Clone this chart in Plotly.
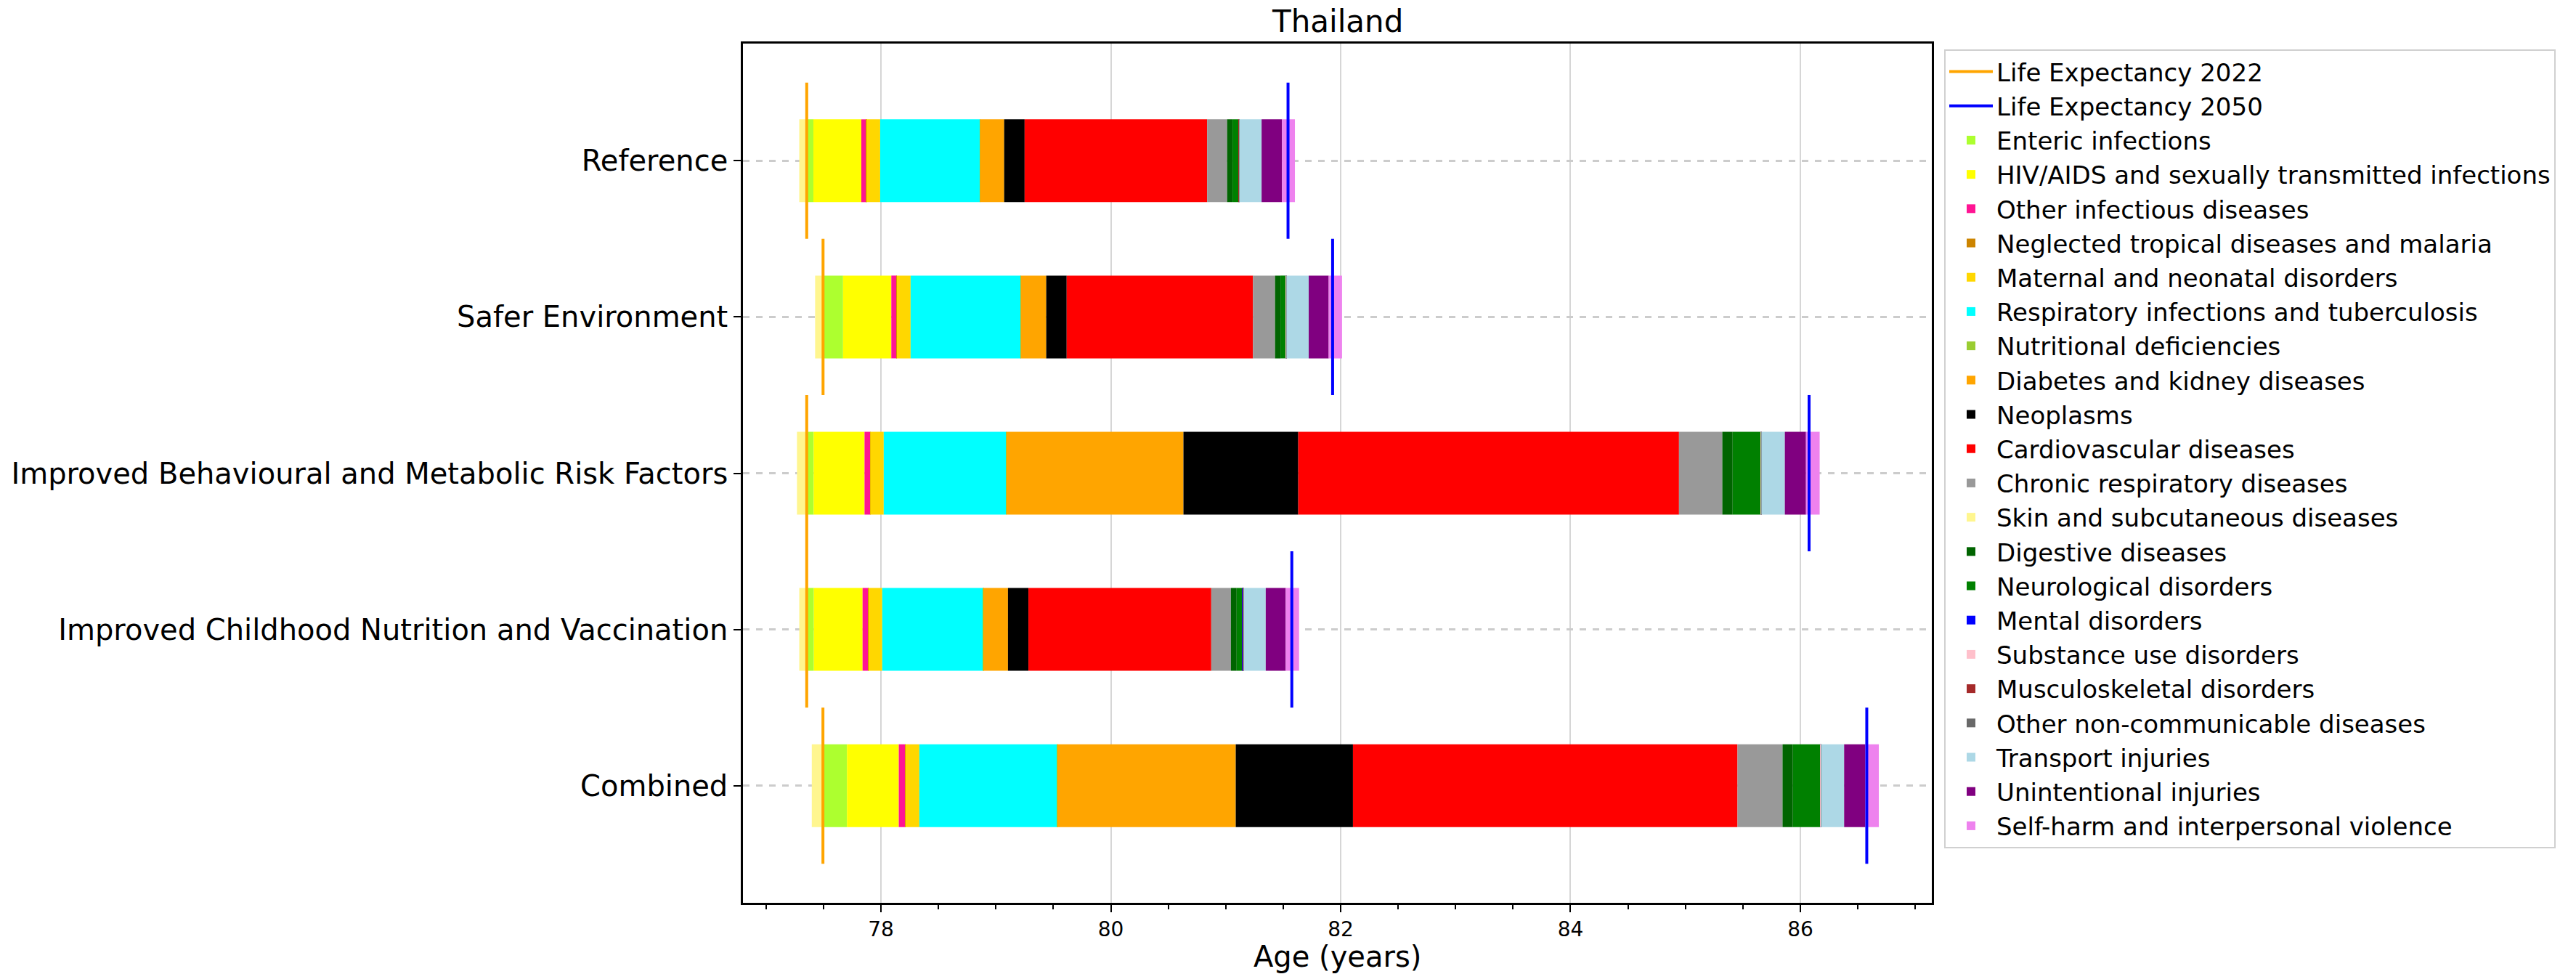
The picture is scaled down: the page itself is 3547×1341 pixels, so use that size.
import numpy as np
import plotly.graph_objects as go

scenarios = [
    "Reference",
    "Safer Environment",
    "Improved Behavioural and Metabolic Risk Factors",
    "Improved Childhood Nutrition and Vaccination",
    "Combined",
]

le_2022 = [77.354, 77.496, 77.354, 77.354, 77.495]
le_2050 = [81.542, 81.930, 86.076, 81.575, 86.578]

causes = [
    "Enteric infections",
    "HIV/AIDS and sexually transmitted infections",
    "Other infectious diseases",
    "Neglected tropical diseases and malaria",
    "Maternal and neonatal disorders",
    "Respiratory infections and tuberculosis",
    "Nutritional deficiencies",
    "Diabetes and kidney diseases",
    "Neoplasms",
    "Cardiovascular diseases",
    "Chronic respiratory diseases",
    "Skin and subcutaneous diseases",
    "Digestive diseases",
    "Neurological disorders",
    "Mental disorders",
    "Substance use disorders",
    "Musculoskeletal disorders",
    "Other non-communicable diseases",
    "Transport injuries",
    "Unintentional injuries",
    "Self-harm and interpersonal violence",
]

cause_colors = [
    "#ADFF2F", "#FFFF00", "#FF1493", "#CC8400", "#FFD700", "#00FFFF",
    "#9ACD32", "#FFA500", "#000000", "#FF0000", "#999999", "#FFF68F",
    "#006400", "#008000", "#0000FF", "#FFC0CB", "#A52A2A", "#696969",
    "#ADD8E6", "#800080", "#EE82EE",
]

# contributions (years) per scenario, same order as `scenarios`
enteric = [0.058, 0.174, 0.060, 0.062, 0.209]
hiv_sti = [0.417, 0.420, 0.443, 0.424, 0.451]
other_infectious = [0.044, 0.047, 0.049, 0.051, 0.057]
ntd_malaria = [0.001, 0.001, 0.001, 0.001, 0.001]
maternal_neonatal = [0.119, 0.120, 0.117, 0.119, 0.121]
respiratory_tb = [0.867, 0.957, 1.067, 0.878, 1.200]
nutritional = [0.002, 0.002, 0.002, 0.002, 0.002]
diabetes_kidney = [0.210, 0.221, 1.539, 0.214, 1.551]
neoplasms = [0.178, 0.178, 0.999, 0.178, 1.020]
cardiovascular = [1.588, 1.621, 3.313, 1.591, 3.346]
chronic_respiratory = [0.174, 0.192, 0.377, 0.171, 0.392]
skin = [-0.065, -0.069, -0.085, -0.065, -0.097]
digestive = [0.047, 0.047, 0.090, 0.050, 0.090]
neurological = [0.050, 0.047, 0.245, 0.051, 0.240]
mental = [0.003, 0.002, 0.002, 0.003, 0.002]
substance = [0.002, 0.001, 0.001, 0.002, 0.001]
musculoskeletal = [0.003, 0.002, 0.002, 0.003, 0.002]
other_ncd = [0.002, 0.001, 0.001, 0.002, 0.001]
transport = [0.193, 0.193, 0.203, 0.192, 0.200]
unintentional = [0.177, 0.174, 0.184, 0.174, 0.184]
self_harm = [0.113, 0.116, 0.119, 0.116, 0.118]

cause_values = [
    enteric, hiv_sti, other_infectious, ntd_malaria, maternal_neonatal,
    respiratory_tb, nutritional, diabetes_kidney, neoplasms, cardiovascular,
    chronic_respiratory, skin, digestive, neurological, mental, substance,
    musculoskeletal, other_ncd, transport, unintentional, self_harm,
]

FONT = "DejaVu Sans"
y_pos = list(range(len(scenarios)))

fig = go.Figure()


def vline_xy(values):
    xs, ys = [], []
    for i, v in enumerate(values):
        xs += [v, v, None]
        ys += [i - 0.5, i + 0.5, None]
    return xs, ys


x22, y22 = vline_xy(le_2022)
x50, y50 = vline_xy(le_2050)
fig.add_trace(go.Scatter(x=x22, y=y22, mode="lines", name="Life Expectancy 2022",
                         line=dict(color="orange", width=4)))
fig.add_trace(go.Scatter(x=x50, y=y50, mode="lines", name="Life Expectancy 2050",
                         line=dict(color="blue", width=4)))

pos_cum = np.array(le_2022, dtype=float)
neg_cum = np.array(le_2022, dtype=float)
for name, col, vals in zip(causes, cause_colors, cause_values):
    v = np.array(vals, dtype=float)
    base = np.where(v >= 0, pos_cum, neg_cum)
    pos_cum = pos_cum + np.clip(v, 0, None)
    neg_cum = neg_cum + np.clip(v, None, 0)
    fig.add_trace(go.Bar(
        y=y_pos, x=v, base=base, orientation="h", width=0.53, name=name,
        marker=dict(color=col, line=dict(width=0)), opacity=1,
    ))

fig.update_layout(
    width=3547, height=1341,
    barmode="overlay",
    paper_bgcolor="white", plot_bgcolor="white",
    font=dict(family=FONT, color="black"),
    margin=dict(l=1023, r=887, t=60, b=98, autoexpand=False),
    showlegend=True,
    legend=dict(
        x=1.0104, y=0.9933, xanchor="left", yanchor="top",
        font=dict(family=FONT, size=34, color="black"),
        bgcolor="white", bordercolor="#d0d0d0", borderwidth=2,
        traceorder="normal", itemwidth=60, tracegroupgap=0,
    ),
    annotations=[
        dict(text="Thailand", x=0.5, y=1, xref="paper", yref="paper",
             xanchor="center", yanchor="bottom", yshift=4, showarrow=False,
             font=dict(family=FONT, size=42, color="black")),
        dict(text="Age (years)", x=0.5, y=-0.0626, xref="paper", yref="paper",
             xanchor="center", yanchor="middle", showarrow=False,
             font=dict(family=FONT, size=40, color="black")),
    ],
)

fig.update_xaxes(
    range=[76.799, 87.144], tick0=78, dtick=2,
    ticks="outside", ticklen=10, tickwidth=2, tickcolor="black",
    tickfont=dict(family=FONT, size=28, color="black"),
    showgrid=True, gridcolor="#d6d6d6", gridwidth=2,
    showline=True, mirror=True, linecolor="black", linewidth=2.5,
    zeroline=False,
    minor=dict(tick0=78, dtick=0.5, ticks="outside", ticklen=6, tickwidth=1.5,
               tickcolor="black", showgrid=False),
)
fig.update_yaxes(
    range=[4.75, -0.75], tickvals=y_pos, ticktext=scenarios,
    ticks="outside", ticklen=10, tickwidth=2, tickcolor="black",
    tickfont=dict(family=FONT, size=40, color="black"),
    showgrid=True, gridcolor="#cccccc", gridwidth=2.5, griddash="dash",
    showline=True, mirror=True, linecolor="black", linewidth=2.5,
    zeroline=False,
)

fig.write_html(
    "out.html",
    config={"displayModeBar": False},
    post_script="document.body.style.margin='0px';document.body.style.overflow='hidden';",
)
